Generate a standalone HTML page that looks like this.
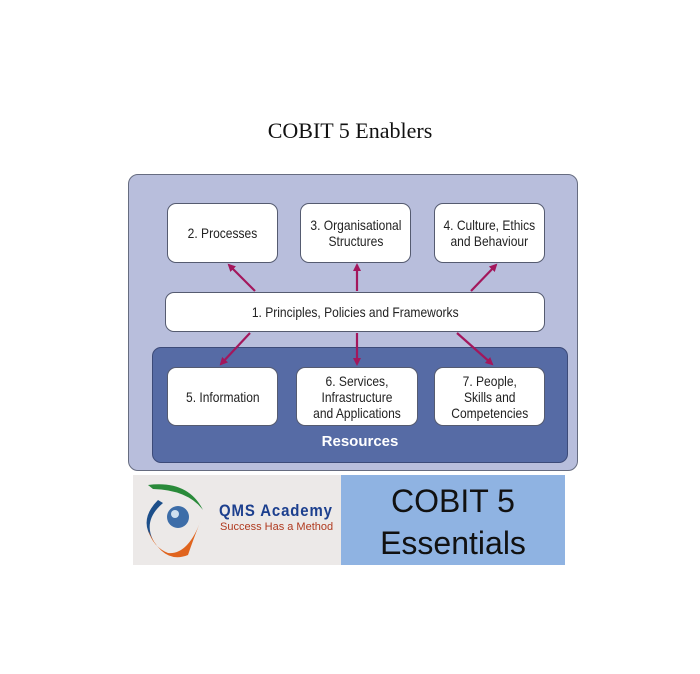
<!DOCTYPE html>
<html><head><style>
body{margin:0;width:700px;height:674px;background:#fff;position:relative;font-family:"Liberation Sans",sans-serif;overflow:hidden}
.a{position:absolute;box-sizing:border-box}
.box{background:#fff;border:1.5px solid #555b70;border-radius:9px;display:flex;align-items:center;justify-content:center;text-align:center;font-size:14px;line-height:16px;color:#222}
.box span{display:inline-block;transform:scaleX(0.86);white-space:nowrap}
</style></head><body>
<div class="a" style="left:0;top:118px;width:700px;text-align:center;font-family:'Liberation Serif',serif;font-size:22px;color:#111">COBIT 5 Enablers</div>
<div class="a" style="left:128px;top:174px;width:450px;height:297px;background:#b8bedc;border:1.5px solid #666c80;border-radius:10px"></div>
<div class="a" style="left:152px;top:347px;width:416px;height:116px;background:#566ba5;border:1.5px solid #3c4a78;border-radius:9px"></div>
<div class="a" style="left:152px;top:433px;width:416px;text-align:center;color:#fff;font-weight:bold;font-size:15px">Resources</div>
<div class="a box" style="left:167px;top:203px;width:111px;height:60px"><span>2. Processes</span></div>
<div class="a box" style="left:300px;top:203px;width:111px;height:60px"><span>3. Organisational<br>Structures</span></div>
<div class="a box" style="left:434px;top:203px;width:111px;height:60px"><span>4. Culture, Ethics<br>and Behaviour</span></div>
<div class="a box" style="left:165px;top:292px;width:380px;height:40px"><span>1. Principles, Policies and Frameworks</span></div>
<div class="a box" style="left:167px;top:367px;width:111px;height:59px"><span>5. Information</span></div>
<div class="a box" style="left:296px;top:367px;width:122px;height:59px"><span>6. Services,<br>Infrastructure<br>and Applications</span></div>
<div class="a box" style="left:434px;top:367px;width:111px;height:59px"><span>7. People,<br>Skills and<br>Competencies</span></div>
<svg class="a" style="left:0;top:0" width="700" height="674">
<defs><marker id="m" markerWidth="8" markerHeight="8" refX="6" refY="4" orient="auto" markerUnits="userSpaceOnUse"><path d="M0,0 L8,4 L0,8 z" fill="#a3175c"/></marker></defs>
<g stroke="#a3175c" stroke-width="2.2" fill="none" marker-end="url(#m)">
<line x1="255" y1="291" x2="229" y2="265"/>
<line x1="357" y1="291" x2="357" y2="265"/>
<line x1="471" y1="291" x2="496" y2="265"/>
<line x1="250" y1="333" x2="221" y2="364"/>
<line x1="357" y1="333" x2="357" y2="364"/>
<line x1="457" y1="333" x2="492" y2="364"/>
</g></svg>
<div class="a" style="left:133px;top:475px;width:208px;height:90px;background:#ece9e8"></div>
<div class="a" style="left:341px;top:475px;width:224px;height:90px;background:#8fb3e2"></div>
<svg class="a" style="left:133px;top:475px" width="90" height="90">
<path d="M15,10 Q55,5 70,35 Q55,15 20,14z" fill="#2a8a3a"/>
<path d="M25,25 Q5,45 20,65 Q10,45 30,28z" fill="#1d4f8a"/>
<path d="M15,55 Q30,90 55,80 Q60,65 68,45 Q55,80 35,78 Q20,72 15,55z" fill="#e0641e"/>
<circle cx="45" cy="42" r="11" fill="#3d6da8"/><circle cx="42" cy="39" r="4" fill="#cfe0f0"/>
</svg>
<div class="a" style="left:219px;top:501px;font-weight:bold;font-size:17px;color:#1c3f8e;letter-spacing:1px;transform:scaleX(0.88);transform-origin:left">QMS Academy</div>
<div class="a" style="left:220px;top:521px;font-size:11px;color:#b03a1f">Success Has a Method</div>
<div class="a" style="left:341px;top:480px;width:224px;text-align:center;font-family:'Liberation Sans',sans-serif;font-size:32px;line-height:42px;color:#111">COBIT 5<br>Essentials</div>
</body></html>
